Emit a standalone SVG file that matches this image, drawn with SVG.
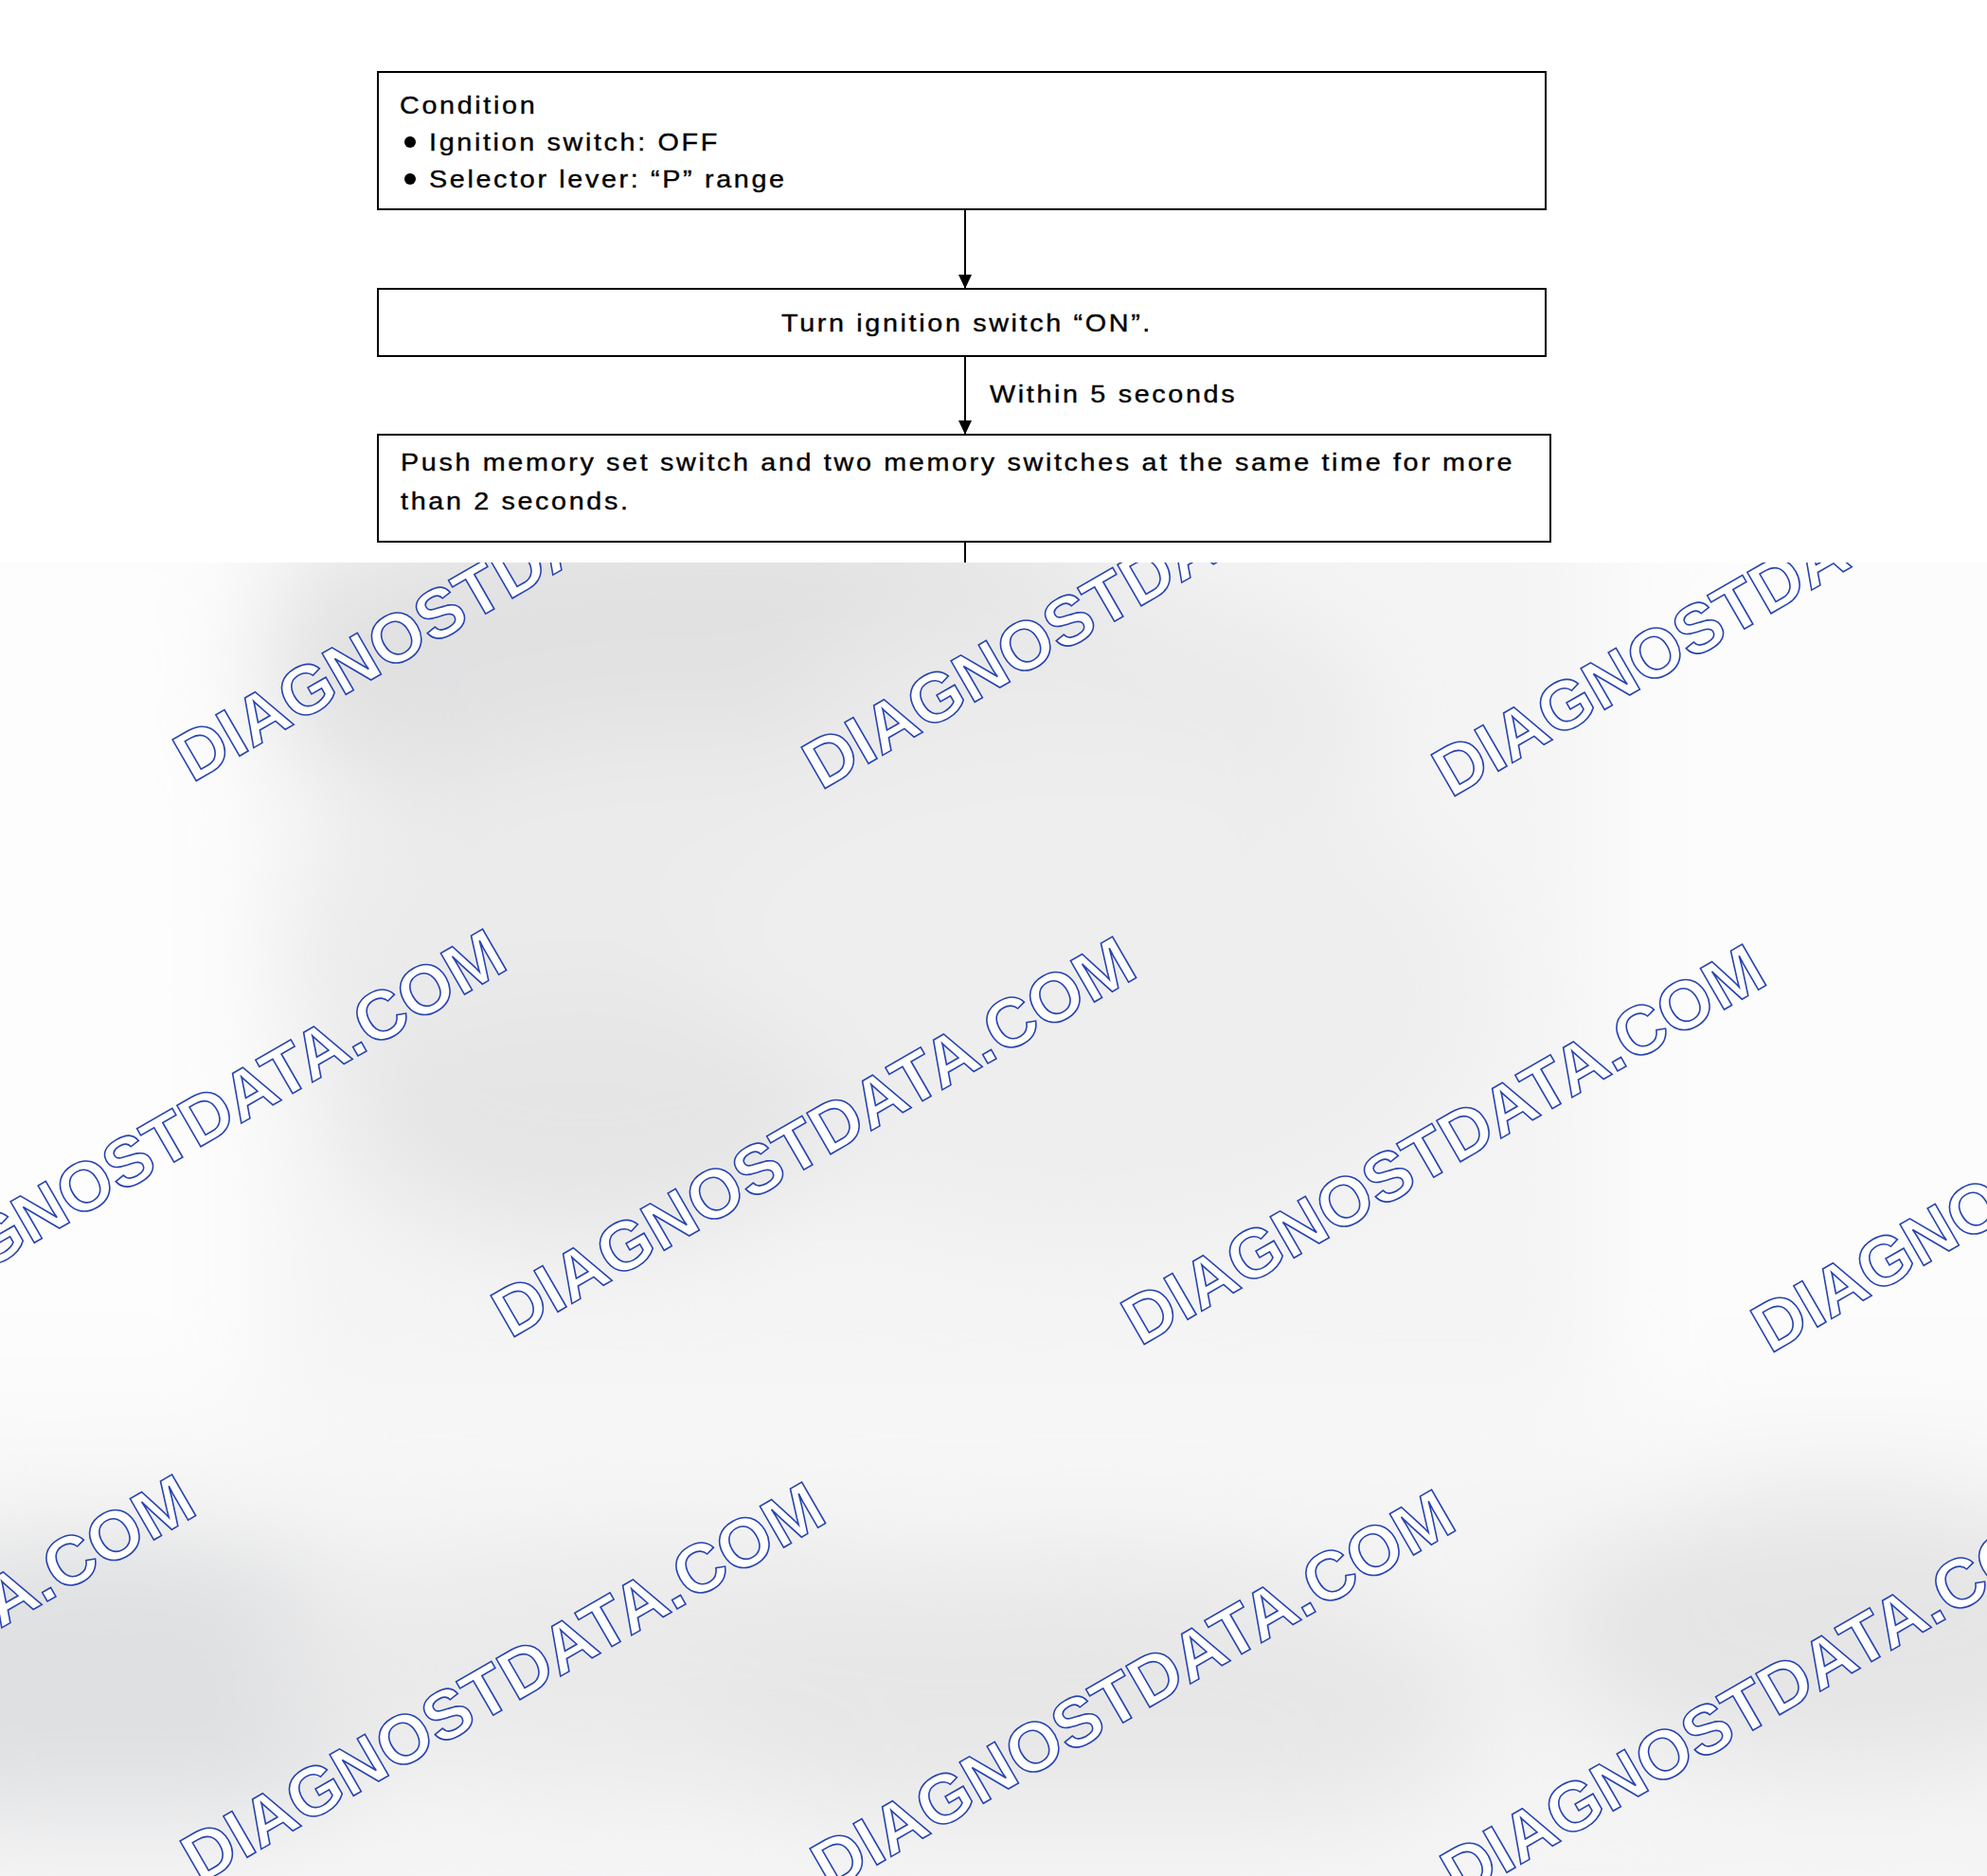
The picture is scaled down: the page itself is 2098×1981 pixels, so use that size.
<svg xmlns="http://www.w3.org/2000/svg" width="2098" height="1981" viewBox="0 0 2098 1981">
<defs>
<style>
.box{fill:#ffffff;stroke:#000000;stroke-width:2}
.t{font-family:"Liberation Sans",Arial,Helvetica,sans-serif;font-size:25px;letter-spacing:2.3px;fill:#000000;stroke:#000000;stroke-width:0.35}
.conn{stroke:#000000;stroke-width:2;fill:none}
.wm{font-family:"Liberation Sans",Arial,Helvetica,sans-serif;font-weight:bold;font-size:73px;fill:#ffffff;stroke:#2844b0;stroke-width:1.6}
</style>
<marker id="arr" markerUnits="userSpaceOnUse" markerWidth="16" markerHeight="16" viewBox="0 0 16 16" refX="15" refY="8" orient="auto">
<path d="M0,1 L15,8 L0,15 Z" fill="#000000"/>
</marker>
<clipPath id="bgclip"><rect x="0" y="594" width="2098" height="1387"/></clipPath>
<filter id="blur" x="-50%" y="-50%" width="200%" height="200%"><feGaussianBlur stdDeviation="55"/></filter>
</defs>
<rect x="0" y="0" width="2098" height="1981" fill="#ffffff"/>

<g id="connectors">
<line class="conn" x1="1019" y1="221" x2="1019" y2="305" marker-end="url(#arr)"/>
<line class="conn" x1="1019" y1="376" x2="1019" y2="459" marker-end="url(#arr)"/>
<line class="conn" x1="1019" y1="572" x2="1019" y2="594"/>
</g>

<g id="node-condition">
<rect class="box" x="399" y="76" width="1233" height="145"/>
<text class="t" transform="translate(422,120) scale(1.15,1)">Condition</text>
<circle cx="433" cy="150" r="6" fill="#000000"/>
<text class="t" transform="translate(453,159) scale(1.15,1)">Ignition switch: OFF</text>
<circle cx="433" cy="189" r="6" fill="#000000"/>
<text class="t" transform="translate(453,198) scale(1.15,1)">Selector lever: “P” range</text>
</g>

<g id="node-turn-on">
<rect class="box" x="399" y="305" width="1233" height="71"/>
<text class="t" transform="translate(825,350) scale(1.15,1)">Turn ignition switch “ON”.</text>
</g>

<g id="label-within">
<text class="t" transform="translate(1045,425) scale(1.15,1)">Within 5 seconds</text>
</g>

<g id="node-push">
<rect class="box" x="399" y="459" width="1238" height="113"/>
<text class="t" transform="translate(423,497) scale(1.15,1)">Push memory set switch and two memory switches at the same time for more</text>
<text class="t" transform="translate(423,538) scale(1.15,1)">than 2 seconds.</text>
</g>

<g id="background" clip-path="url(#bgclip)">
<rect x="0" y="594" width="2098" height="1387" fill="#f4f4f5"/>
<g filter="url(#blur)">
<ellipse cx="760" cy="700" rx="520" ry="170" fill="#e1e1e2"/>
<ellipse cx="1150" cy="760" rx="300" ry="140" fill="#eaeaeb"/>
<ellipse cx="720" cy="1010" rx="420" ry="240" fill="#ebebec"/>
<ellipse cx="1150" cy="1050" rx="420" ry="260" fill="#eeeeef"/>
<ellipse cx="620" cy="1180" rx="260" ry="130" fill="#e5e5e6"/>
<rect x="-200" y="500" width="480" height="1080" fill="#fdfdfd"/>
<rect x="1690" y="500" width="560" height="1100" fill="#fcfcfc"/>
<rect x="-100" y="1470" width="2300" height="90" fill="#f8f8f8"/>
<ellipse cx="120" cy="1780" rx="320" ry="160" fill="#dfe0e1"/>
<ellipse cx="700" cy="1760" rx="420" ry="130" fill="#eaeaeb"/>
<ellipse cx="1150" cy="1800" rx="420" ry="150" fill="#e7e7e8"/>
<ellipse cx="1950" cy="1720" rx="320" ry="150" fill="#e5e5e6"/>
<rect x="-100" y="1920" width="2300" height="120" fill="#f5f5f6"/>
</g>
<g id="watermarks">
<text class="wm" transform="translate(203,827) rotate(-30)">DIAGNOSTDATA.COM</text>
<text class="wm" transform="translate(867,835) rotate(-30)">DIAGNOSTDATA.COM</text>
<text class="wm" transform="translate(1532,843) rotate(-30)">DIAGNOSTDATA.COM</text>
<text class="wm" transform="translate(-126,1406) rotate(-30)">DIAGNOSTDATA.COM</text>
<text class="wm" transform="translate(539,1414) rotate(-30)">DIAGNOSTDATA.COM</text>
<text class="wm" transform="translate(1204,1422) rotate(-30)">DIAGNOSTDATA.COM</text>
<text class="wm" transform="translate(1869,1430) rotate(-30)">DIAGNOSTDATA.COM</text>
<text class="wm" transform="translate(-454,1982) rotate(-30)">DIAGNOSTDATA.COM</text>
<text class="wm" transform="translate(211,1990) rotate(-30)">DIAGNOSTDATA.COM</text>
<text class="wm" transform="translate(876,1998) rotate(-30)">DIAGNOSTDATA.COM</text>
<text class="wm" transform="translate(1541,2006) rotate(-30)">DIAGNOSTDATA.COM</text>
</g>
</g>
</svg>
